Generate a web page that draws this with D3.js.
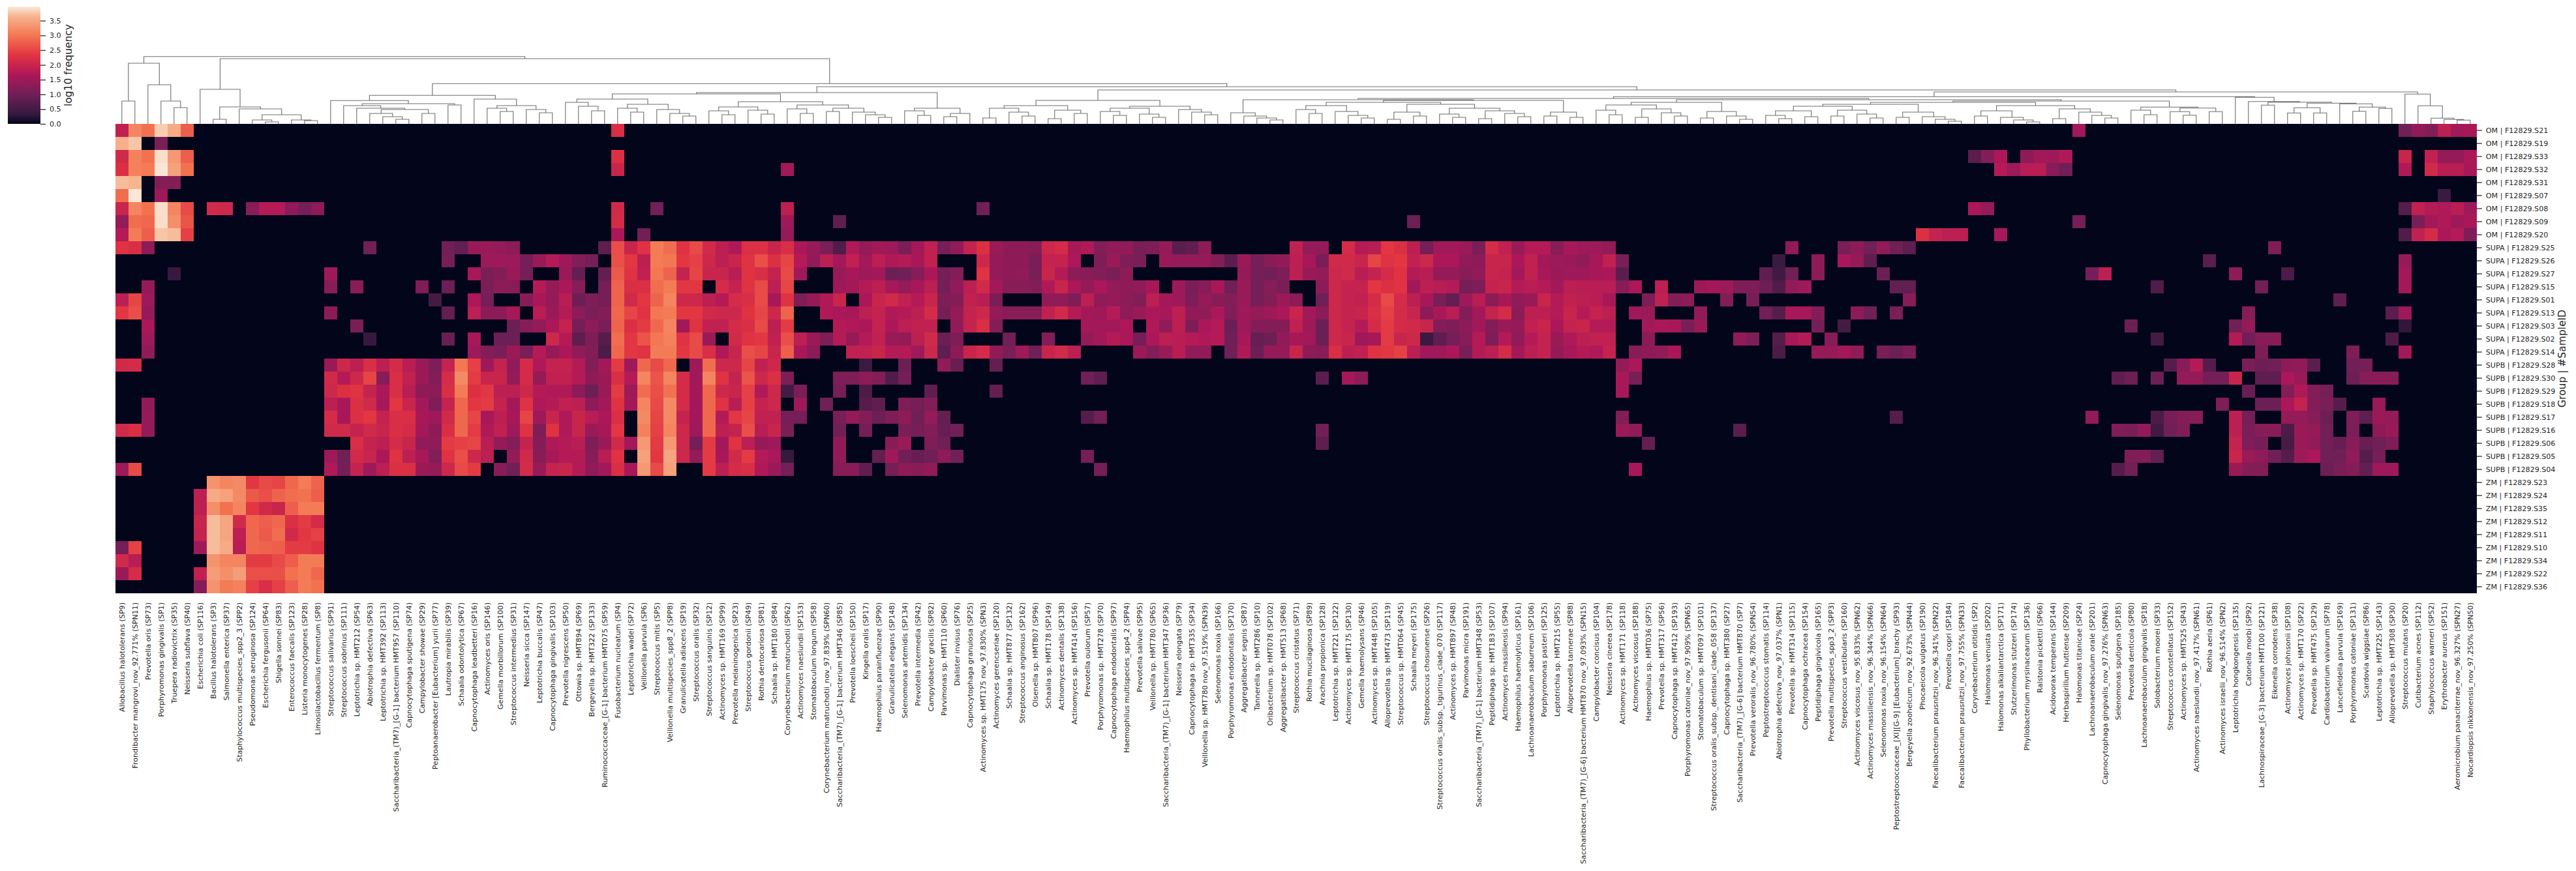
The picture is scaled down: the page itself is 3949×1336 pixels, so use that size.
<!DOCTYPE html>
<html><head><meta charset="utf-8">
<script src="https://cdn.jsdelivr.net/npm/d3@7"></script>
<style>html,body{margin:0;background:#fff}svg{display:block}text{font-family:"DejaVu Sans",sans-serif;fill:#262626}</style>
</head><body><svg id="c" width="3949" height="1336"></svg>
<script>
// ---------- categories ----------
const species = ["Allobacillus halotolerans (SP9)","Frondibacter mangrovi_nov_92.771% (SPN11)","Prevotella oris (SP73)","Porphyromonas gingivalis (SP1)","Truepera radiovictrix (SP35)","Neisseria subflava (SP40)","Escherichia coli (SP116)","Bacillus halotolerans (SP3)","Salmonella enterica (SP37)","Staphylococcus multispecies_spp2_3 (SPP2)","Pseudomonas aeruginosa (SP124)","Escherichia fergusonii (SP64)","Shigella sonnei (SP83)","Enterococcus faecalis (SP123)","Listeria monocytogenes (SP28)","Limosilactobacillus fermentum (SP8)","Streptococcus salivarius (SP91)","Streptococcus sobrinus (SP111)","Leptotrichia sp. HMT212 (SP54)","Abiotrophia defectiva (SP63)","Leptotrichia sp. HMT392 (SP113)","Saccharibacteria_(TM7)_[G-1] bacterium HMT957 (SP110)","Capnocytophaga sputigena (SP74)","Campylobacter showae (SP29)","Peptoanaerobacter [Eubacterium] yurii (SP77)","Lautropia mirabilis (SP39)","Schaalia odontolytica (SP67)","Capnocytophaga leadbetteri (SP16)","Actinomyces oris (SP146)","Gemella morbillorum (SP100)","Streptococcus intermedius (SP31)","Neisseria sicca (SP147)","Leptotrichia buccalis (SP47)","Capnocytophaga gingivalis (SP103)","Prevotella nigrescens (SP50)","Ottowia sp. HMT894 (SP69)","Bergeyella sp. HMT322 (SP133)","Ruminococcaceae_[G-1] bacterium HMT075 (SP59)","Fusobacterium nucleatum (SP4)","Leptotrichia wadei (SP72)","Veillonella parvula (SP6)","Streptococcus mitis (SP5)","Veillonella multispecies_spp8_2 (SPP8)","Granulicatella adiacens (SP19)","Streptococcus oralis (SP32)","Streptococcus sanguinis (SP12)","Actinomyces sp. HMT169 (SP99)","Prevotella melaninogenica (SP23)","Streptococcus gordonii (SP49)","Rothia dentocariosa (SP81)","Schaalia sp. HMT180 (SP84)","Corynebacterium matruchotii (SP62)","Actinomyces naeslundii (SP153)","Stomatobaculum longum (SP58)","Corynebacterium matruchotii_nov_97.839% (SPN60)","Saccharibacteria_(TM7)_[G-1] bacterium HMT346 (SP85)","Prevotella loescheii (SP150)","Kingella oralis (SP17)","Haemophilus parainfluenzae (SP90)","Granulicatella elegans (SP148)","Selenomonas artemidis (SP134)","Prevotella intermedia (SP42)","Campylobacter gracilis (SP82)","Parvimonas sp. HMT110 (SP60)","Dialister invisus (SP76)","Capnocytophaga granulosa (SP25)","Actinomyces sp. HMT175 nov_97.830% (SPN3)","Actinomyces gerencseriae (SP120)","Schaalia sp. HMT877 (SP132)","Streptococcus anginosus (SP162)","Olsenella sp. HMT807 (SP96)","Schaalia sp. HMT178 (SP149)","Actinomyces dentalis (SP138)","Actinomyces sp. HMT414 (SP156)","Prevotella oulorum (SP57)","Porphyromonas sp. HMT278 (SP70)","Capnocytophaga endodontalis (SP97)","Haemophilus multispecies_spp4_2 (SPP4)","Prevotella salivae (SP95)","Veillonella sp. HMT780 (SP65)","Saccharibacteria_(TM7)_[G-1] bacterium HMT347 (SP36)","Neisseria elongata (SP79)","Capnocytophaga sp. HMT335 (SP34)","Veillonella sp. HMT780 nov_97.519% (SPN39)","Selenomonas noxia (SP166)","Porphyromonas endodontalis (SP170)","Aggregatibacter segnis (SP87)","Tannerella sp. HMT286 (SP10)","Oribacterium sp. HMT078 (SP102)","Aggregatibacter sp. HMT513 (SP68)","Streptococcus cristatus (SP71)","Rothia mucilaginosa (SP89)","Arachnia propionica (SP128)","Leptotrichia sp. HMT221 (SP122)","Actinomyces sp. HMT175 (SP130)","Gemella haemolysans (SP46)","Actinomyces sp. HMT448 (SP105)","Alloprevotella sp. HMT473 (SP119)","Streptococcus sp. HMT064 (SP45)","Schaalia meyeri (SP175)","Streptococcus chosunense (SP26)","Streptococcus oralis_subsp._tigurinus_clade_070 (SP117)","Actinomyces sp. HMT897 (SP48)","Parvimonas micra (SP191)","Saccharibacteria_(TM7)_[G-1] bacterium HMT348 (SP53)","Peptidiphaga sp. HMT183 (SP107)","Actinomyces massiliensis (SP94)","Haemophilus haemolyticus (SP161)","Lachnoanaerobaculum saburreum (SP106)","Porphyromonas pasteri (SP125)","Leptotrichia sp. HMT215 (SP55)","Alloprevotella tannerae (SP88)","Saccharibacteria_(TM7)_[G-6] bacterium HMT870 nov_97.093% (SPN15)","Campylobacter concisus (SP104)","Neisseria cinerea (SP178)","Actinomyces sp. HMT171 (SP118)","Actinomyces viscosus (SP188)","Haemophilus sp. HMT036 (SP75)","Prevotella sp. HMT317 (SP56)","Capnocytophaga sp. HMT412 (SP193)","Porphyromonas catoniae_nov_97.909% (SPN65)","Stomatobaculum sp. HMT097 (SP101)","Streptococcus oralis_subsp._dentisani_clade_058 (SP137)","Capnocytophaga sp. HMT380 (SP27)","Saccharibacteria_(TM7)_[G-6] bacterium HMT870 (SP7)","Prevotella veroralis_nov_96.780% (SPN54)","Peptostreptococcus stomatis (SP114)","Abiotrophia defectiva_nov_97.037% (SPN1)","Prevotella sp. HMT314 (SP115)","Capnocytophaga ochracea (SP154)","Peptidiphaga gingivicola (SP165)","Prevotella multispecies_spp3_2 (SPP3)","Streptococcus vestibularis (SP160)","Actinomyces viscosus_nov_95.833% (SPN62)","Actinomyces massiliensis_nov_96.344% (SPN66)","Selenomonas noxia_nov_96.154% (SPN64)","Peptostreptococcaceae_[XI][G-9] [Eubacterium]_brachy (SP93)","Bergeyella zoohelcum_nov_92.673% (SPN44)","Phocaeicola vulgatus (SP190)","Faecalibacterium prausnitzii_nov_96.341% (SPN22)","Prevotella copri (SP184)","Faecalibacterium prausnitzii_nov_97.755% (SPN33)","Corynebacterium otitidis (SP2)","Halomonas venusta (SP202)","Halomonas alkaliantarctica (SP171)","Stutzerimonas stutzeri (SP174)","Phyllobacterium myrsinacearum (SP136)","Ralstonia pickettii (SP66)","Acidovorax temperans (SP144)","Herbaspirillum huttiense (SP209)","Halomonas titanicae (SP24)","Lachnoanaerobaculum orale (SP201)","Capnocytophaga gingivalis_nov_97.276% (SPN63)","Selenomonas sputigena (SP185)","Prevotella denticola (SP80)","Lachnoanaerobaculum gingivalis (SP18)","Solobacterium moorei (SP33)","Streptococcus constellatus (SP152)","Actinomyces sp. HMT525 (SP43)","Actinomyces naeslundii_nov_97.417% (SPN61)","Rothia aeria (SP61)","Actinomyces israelii_nov_96.514% (SPN2)","Leptotrichia hongkongensis (SP135)","Catonella morbi (SP92)","Lachnospiraceae_[G-3] bacterium HMT100 (SP121)","Eikenella corrodens (SP38)","Actinomyces johnsonii (SP108)","Actinomyces sp. HMT170 (SP22)","Prevotella sp. HMT475 (SP129)","Cardiobacterium valvarum (SP78)","Lancefieldella parvula (SP169)","Porphyromonas catoniae (SP131)","Scardovia wiggsiae (SP86)","Leptotrichia sp. HMT225 (SP143)","Alloprevotella sp. HMT308 (SP30)","Streptococcus mutans (SP20)","Cutibacterium acnes (SP112)","Staphylococcus warneri (SP52)","Erythrobacter aureus (SP151)","Aeromicrobium panaciterrae_nov_96.327% (SPN27)","Nocardiopsis nikkonensis_nov_97.250% (SPN50)"];
const samples = ["OM | F12829.S21","OM | F12829.S19","OM | F12829.S33","OM | F12829.S32","OM | F12829.S31","OM | F12829.S07","OM | F12829.S08","OM | F12829.S09","OM | F12829.S20","SUPA | F12829.S25","SUPA | F12829.S26","SUPA | F12829.S27","SUPA | F12829.S15","SUPA | F12829.S01","SUPA | F12829.S13","SUPA | F12829.S03","SUPA | F12829.S02","SUPA | F12829.S14","SUPB | F12829.S28","SUPB | F12829.S30","SUPB | F12829.S29","SUPB | F12829.S18","SUPB | F12829.S17","SUPB | F12829.S16","SUPB | F12829.S06","SUPB | F12829.S05","SUPB | F12829.S04","ZM | F12829.S23","ZM | F12829.S24","ZM | F12829.S35","ZM | F12829.S12","ZM | F12829.S11","ZM | F12829.S10","ZM | F12829.S34","ZM | F12829.S22","ZM | F12829.S36"];
const colorbarTicks = [0,0.5,1,1.5,2,2.5,3,3.5];
const rocketStops = [0,0.083,0.25,0.417,0.583,0.75,0.917,1];
const rocketColors = ["#03051a","#35193e","#701f57","#ad1759","#e13342","#f37651","#f6b48f","#faebdd"];
const vmax = 3.98;

// ---------- log10 frequency per sample: runs of [first species index, values...]; everything else is 0 ----------
const S21=[[0,1.9,3.15,2.95,3.8,3.55,2.75],[38,2.2],[150,1.55],[175,1.0,1.35,1.2,1.85,1.55,1.6]];
const S19=[[0,3.6,3.75,0,1.1]];
const S33=[[0,2.1,3.1,2.95,3.9,3.35,2.75],[38,2.25],[142,.75,1.2,1.65,0,1.3,1.55,1.5,1.7],[175,2.0,0,1.9,1.4,1.4,1.65]];
const S32=[[0,2.25,3.1,3.05,3.95,3.45,2.95],[38,2.0],[51,1.55],[144,1.75,1.5,1.8,1.8,1.25,1.0],[175,1.7,0,2.1,1.8,1.8,1.6]];
const S31=[[0,3.7,3.65,0,1.2,1.2]];
const S07=[[0,2.9,3.95,0,1.5],[178,.4]];
const S08=[[0,2.0,3.15,2.95,3.9,3.15,2.55,0,2.1,2.05,0,1.25,1.75,1.75,1.3,1.05,1.3],[38,2.1],[41,1.0],[51,1.85],[66,1.0],[142,1.65,1.4],[175,.7,1.9,1.75,1.7,1.8,1.5]];
const S09=[[0,1.4,2.9,2.85,3.9,3.25,2.65],[38,2.15],[51,1.5],[55,.8],[99,.95],[150,1.05],[176,1.1,1.55,1.7,1.5,1.6]];
const S20=[[0,1.75,3.05,2.75,3.75,3.7,2.45],[38,1.65],[40,1.0],[51,1.4],[138,2.25,1.95,1.85,1.85],[144,1.6],[175,.65,1.9,2.15,1.65,1.75,1.15]];
const S25=[[0,2.3,2.2,1.3],[19,1.0],[25,1.0,.85,1.45,1.45,1.4,1.3],[37,.8,2.6,2.0,2.3,3.05,2.9,2.3,2.55,2.1,1.85,1.7,2.25,2.25,2.0,2.2,1.65,1.4,1.1,.65,1.7,1.4,1.55,1.5,1.1,1.55,1.9,1.05,1.35,1.95,2.25,1.45,1.3,1.3,1.25,2.05,2.15,1.6,1.7,1.2,1.35,1.35,1.1,1.15,1.4,.75,.8,1.3],[90,1.9,1.4,1.4,0,2.15,1.75,1.8,2.35,2.25,1.85,1.05,1.55,1.55,1.45,1.1,2.15,1.9,1.45,1.75,1.75,1.25,1.6,1.5,1.5,1.4],[128,1.35],[132,1.1,1.3,1.0,1.35,1.0,.8],[165,1.15]];
const S26=[[25,1.05],[28,1.5,1.5,1.5,1.05,1.45,1.75,1.5,1.2,1.05,0,2.6,2.35,1.85,3.05,3.0,2.35,2.45,2.05,1.85,2.0,2.3,2.6,2.25,2.5,1.75,1.35,1.85,1.55,1.9,1.55,1.85,1.7,1.75,1.6,1.9],[66,2.05,1.4,1.3,1.3,1.1,1.95,1.95,1.65,0,1.15,1.45,1.15,1.1,0,1.45,1.4,1.4,1.4,1.2,.75,1.45,1.05,1.25,1.35,1.85,1.6,1.1,2.1,2.1,2.0,2.5,2.3,2.35,1.9,2.05,1.65,1.65,1.35,1.3,2.0,2.0,1.65,1.9,1.55,1.5,1.45,1.35,1.6,1.9,1.1],[127,.4],[130,1.3],[132,1.6,1.4,.8],[160,.75],[175,1.4]];
const S27=[[4,.35],[16,1.5],[27,1.6,1.1,1.2,1.45,1.05,0,0,1.45,.85,0,.85,2.7,2.3,1.9,3.0,2.8,1.95,2.5,2.0,2.0,1.8,2.3,2.2,1.95,2.55,1.55],[55,1.45,1.6,1.5,1.55,.95,1.0,1.25,1.65,1.05,1.2,0,2.3,1.4,1.3,1.35,1.1,2.0,1.75,1.3,1.25,1.2,1.1,1.3],[86,1.4,1.05,1.0,1.15,1.85,1.45,1.4,2.05,2.1,1.8,1.95,2.15,2.3,1.75,1.8,1.4,1.4,1.25,1.35,2.0,1.95,1.55,1.9,1.6,1.45,1.5,1.5,1.6,1.65,.75],[126,.8,.45,1.0,0,1.3],[135,.95],[151,1.05,1.85],[162,1.3],[166,.6],[175,1.55]];
const S15=[[2,1.4],[16,1.25,0,1.25],[23,1.15,0,.95],[28,1.1,1.3,1.25,0,1.75,1.4,1.65,1.25,0,1.05,2.8,2.2,2.25,2.9,3.05,2.35,2.35,0,2.15,1.95,2.3,2.55,1.85,2.5],[55,1.5,1.55,1.75,1.85,1.6,1.4,1.6,1.85,1.05,1.35,1.85,2.1,1.55,1.25,1.25,1.2,1.7,2.0,1.65,1.4,1.65,1.4,1.3,1.35,1.6,0,1.5,1.1,1.25,1.6,1.0,1.45,1.05,1.25,1.1],[92,1.3,2.05,1.95,1.95,2.35,2.25,2.3,1.55,1.85,1.8,1.75,1.05,1.15,1.95,2.0,1.75,1.8,1.75,1.55,1.85,1.8,1.8,1.8,1.25,1.65,0,1.85],[121,1.45,1.55,1.5,1.15,1.15,.95,.65,1.35,1.5],[136,.85,.85],[156,.65],[164,1.0],[175,1.55]];
const S01=[[0,1.85,2.5,1.5],[24,.5],[27,1.65,1.05,0,0,1.25,1.6,1.4,1.8,.95,1.15,1.05,2.8,2.1,2.35,2.8,3.15,2.05,2.05,1.85,1.75,2.15,2.2,2.55,1.6,2.3,1.15,1.4,1.7,2.0,0,1.65,2.0,2.1,1.9,1.75,2.0,1.15,1.2,1.9,1.8,1.1],[71,1.35,1.35,1.15,1.85,1.35,1.4,1.3,1.2,1.85,1.55,1.5,1.15,1.4,1.25,1.2,1.45,1.05,1.2,1.45,1.3,0,1.0,2.05,1.95,1.9,2.15,2.55,2.15,1.85,1.6,1.1,.85,1.5,1.8,1.3,1.6,1.35,1.45,2.0,1.75,1.9,1.85,1.8,1.6],[117,1.15,1.9,1.2,1.3],[123,1.2,0,1.05],[137,1.25],[170,.8]];
const S13=[[0,2.35,2.6,1.4],[16,1.3],[25,.85],[27,1.85,1.3,1.3,1.6,0,1.8,1.45,1.75,1.3,1.1,1.2,2.85,2.5,2.3,3.0,3.05,2.35,2.35,2.1,2.05,2.05,2.3,2.5,2.05,2.8],[54,1.7,1.65,1.6,1.85,1.95,1.7,1.75,1.85,2.15,1.05,1.4,1.95,2.05,1.4,1.25,1.25,1.25,1.9,2.1,1.75,1.55,1.5,1.75,1.3,1.45,1.65,1.6,1.85,1.35,1.35,1.65,1.2,1.5,1.4,1.5,1.65,2.0,1.55,1.3,2.05,1.95,2.0,2.2,2.45,2.15,2.0,1.3,1.6,1.8,1.2,1.55,1.95,2.15,1.3,1.85,1.85,1.75,2.0,1.75,1.95,1.85,0,1.5,1.45],[121,1.35],[126,1.0,.7,1.6,1.6,1.2],[133,1.3,1.0,0,1.1],[163,1.25],[174,.75,1.5]];
const S03=[[2,1.65],[18,1.1],[30,.95,1.25,1.4,1.65,1.95,1.05,1.3,1.1,2.8,2.25,2.4,2.85,3.15,1.55,2.3,1.9,1.9,2.15,2.2,2.55,1.85,2.4],[55,1.75,1.7,1.65,1.95,1.65,1.85,1.9,1.9,0,1.35,1.95,2.2,1.2],[74,1.55,1.55,1.55,1.65,0,1.7,1.35,1.85,1.15,1.65,1.75,.95,1.5,1.2,1.2,1.2,1.9,1.5,.95,2.05,1.95,1.75,2.15,2.4,2.15,2.1,2.0,1.2,1.15,1.3,1.55,1.2,1.45,1.4,1.9,2.0,1.65,1.95,2.0,1.75,1.75],[117,1.55,1.65,1.6,1.1,1.45],[130,1.05],[132,.5],[154,.95],[162,1.0,1.4],[175,.3]];
const S02=[[2,1.5],[19,.35],[25,.9],[27,1.6,0,.95,.95,0,0,2.05,1.75,.8,1.15,.7,2.9,2.35,2.65,3.0,3.1,2.3,2.55,1.45,0,2.1,2.3,2.35,1.9,2.6,1.85,1.45,1.15,1.75,1.4,1.75,1.9,1.45,1.4,1.85,2.1,.95,1.15],[68,1.0],[71,1.2],[74,1.4,1.55,1.75,1.65,1.05,1.65,1.85,1.8,1.75,1.7,1.75,1.0,1.6,.9,.95,1.35,1.6,1.55,.95,2.05,2.0,1.5,1.6,2.4,2.0,2.05,.4,.8,1.05,1.25,1.75,1.15,1.75,1.35,1.75,1.95,1.45,1.7,1.85,1.9,1.9],[117,1.3],[124,1.35,1.15],[127,.7,1.6,1.75,0,1.25],[156,.5],[162,1.75,1.0,1.25,1.25],[174,.6]];
const S14=[[2,1.35],[27,1.5,1.2,1.1,1.45,1.1,1.75,1.4,1.65,1.35,1.2,.6,2.85,2.35,2.3,3.05,3.05,2.35,2.55,2.2,1.7,2.0,2.6,2.5,2.0,2.75,1.6,1.3],[56,1.9,1.9,2.0,1.75,1.75,1.5,2.05,.8,1.3,2.0,2.15,1.35,1.1,1.5,1.0,2.0,2.1,1.85],[78,1.45,1.2,1.45,1.8,1.35,1.35,0,1.0,1.7,.95,1.4,1.4,2.0,1.3,1.25,2.2,1.85,1.9,2.3,2.35,2.45,1.85,1.5,1.5,1.65,1.1,1.75,1.85,2.15,1.55,1.85,1.95,1.4,1.6,1.75,1.7,1.95,0,1.25,1.3,1.35,1.6],[127,.6],[130,1.4,1.4,1.55,1.35,0,1.1,.95,1.1],[164,1.15],[171,1.15],[175,1.55]];
const S28=[[0,2.1,2.15],[16,1.45,2.05,1.85,2.2,1.85,2.15,1.8,1.45,1.15,1.95,3.0,2.45,1.5,1.95,1.35,2.15,1.7,1.95,1.95,1.75,1.2,1.55,2.4,1.5,2.85,2.55,2.85,0,1.5,2.9,2.05,2.05,2.5,1.9,2.05],[57,.4],[60,.95],[63,1.35,.9],[67,.85],[115,1.4,1.65],[157,.7,1.25,1.75,.7,0,0,1.1,.95,1.0,1.3,1.35,.75],[171,1.0,1.05]];
const S30=[[16,2.1,1.75,2.05,2.5,1.25,2.2,1.9,1.45,1.2,2.15,3.2,2.4,2.0,2.0,1.4,2.15,1.4,1.9,1.9,1.75,1.3,1.45,2.2,1.75,3.15,2.65,3.15,2.15,1.55,3.15,2.3,1.95,2.65,2.05,2.25,1.15],[55,1.15,1.15,1.3,1.2,.65,1.05],[74,1.0,.8],[92,.75,0,1.55,1.3],[115,1.6,1.1],[153,.8,.95,0,.95,0,1.4,1.4,1.05,1.05,2.0,0,.8,.8,1.65,1.45],[171,.95,1.25,1.25,1.25]];
const S29=[[16,2.05,2.25,2.3,1.95,1.65,2.2,1.8,1.3,1.3,2.2,3.05,2.25,2.35,1.85,1.85,2.05,1.75,1.7,1.7,1.3,.95,1.45,2.4,1.5,2.9,2.6,2.95,2.15,1.55,2.85,2.05,2.0,2.45,1.7,2.05,.5,1.1],[55,1.05],[57,.6],[62,.8],[67,.85],[115,1.6],[163,.9,0,0,1.2,1.7,1.2,1.05]];
const S18=[[2,1.35],[16,1.85,1.6,2.25,2.1,1.6,2.35,2.0,1.55,1.15,1.95,2.85,2.35,2.4,1.95,1.55,2.3,1.7,1.75,1.9,1.85,1.3,1.55,2.3,1.55,3.15,2.55,3.2,2.15,1.55,2.85,2.3,1.8,2.45,1.95,2.05,0,1.5,0,1.0],[57,.7,.8,0,1.15,1.05,1.2],[161,1.15],[164,.95,.95,1.65,1.95,1.2,1.1,.7],[173,1.45]];
const S17=[[2,1.4],[16,2.15,1.6,2.25,2.35,1.95,2.2,2.2,1.6,1.5,2.1,2.85,2.5,1.6,1.85,1.6,2.5,1.5,2.0,1.7,2.0,1.8,1.65,2.2,0,3.2,2.5,3.2,1.95,1.55,2.85,1.75,2.35,2.5,1.9,1.9,1.05,1.05],[55,1.1,1.4,1.2,.95,1.15,1.3,1.0,1.4,.85],[74,.7,1.0],[115,1.2],[136,.7],[151,1.35],[156,.6,1.05,1.2,1.25],[162,1.85,1.05],[166,1.4,1.4,1.25,.95],[171,1.15,.8,1.45,1.4]];
const S16=[[0,2.1,2.2,1.4],[16,2.1,2.1,1.95,2.1,2.0,2.2,2.15,1.55,1.3,2.2,2.85,2.4,1.7,1.9,1.5,2.3,1.15,2.3,1.7,2.0,1.45,1.6,2.35,0,3.1,2.45,3.15,2.05,1.5,2.85,1.85,1.95,2.6,1.8,2.0,1.1],[55,1.0],[57,1.05],[60,1.1,1.05,1.2,.9,1.0],[92,1.0],[115,1.5,1.35],[124,.75],[153,1.15,1.1,1.35,.45,1.0,1.15],[162,1.85,1.1,1.25,1.25,.6,1.45,1.4,1.0],[171,1.1,0,1.3,1.45]];
const S06=[[18,2.2,1.95,1.85,2.15,2.0,1.35,1.35,2.4,2.45,2.5,1.8,1.4,1.2,1.95,1.2,1.7,1.75,1.8,1.15,1.45,2.1,1.55,3.35,2.4,3.35,2.05,1.05,2.4,1.55,2.3,1.85,1.4,1.5],[55,1.35],[59,1.25,1.45,0,1.15,1.0],[92,.8],[117,.85],[162,1.95,1.15,1.05,0,.55,1.45,1.35,1.0,.9,1.25,.9,1.0,1.15]];
const S05=[[16,1.5,1.0,2.1,2.0,1.65,2.3,1.85,1.6,1.2,2.3,2.6,2.05,1.85,0,1.4,2.1,1.25,1.6,1.75,1.75,1.25,1.8,2.3,0,3.45,2.35,3.5,2.05,1.4,2.4,1.6,2.1,2.4,1.75,1.65,.35],[55,1.35],[58,.85,1.5,1.0,.9,1.0,1.3,1.0],[74,1.05],[154,1.15,1.2,.85],[162,2.0,1.45,1.3,1.0,.7,1.5,1.65,1.0,1.0,1.35,.7,1.05]];
const S04=[[0,1.5,2.55],[16,1.7,1.05,1.95,1.5,1.85,2.25,2.25,1.45,1.4,2.05,2.55,2.4,0,1.25,1.0,2.15,1.45,1.95,2.0,1.75,1.35,1.55,2.2,1.6,3.35,2.55,3.45,0,0,2.4,1.85,2.15,2.2,1.7,1.45,1.05],[55,1.25,1.25,.8,0,1.05,1.3,1.25,1.35],[75,1.05],[116,1.6],[153,.7,1.0],[162,1.45,1.2,1.2],[169,.95,1.1,1.2,.85,1.5,1.5]];
const S23=[[7,3.3,3.15,3.2,2.35,2.55,2.5,2.85,3.05,2.8]];
const S24=[[6,1.85,3.55,3.45,3.2,2.7,2.6,2.8,2.9,2.95,2.75]];
const S35=[[6,1.85,3.25,2.95,3.15,2.35,2.1,2.0,2.75,3.05,3.05]];
const S12=[[6,2.0,3.7,3.5,2.1,2.85,2.75,2.85,2.25,2.4,2.15]];
const S11=[[6,1.95,3.7,3.5,1.85,2.85,2.7,2.9,2.1,2.35,2.45]];
const S10=[[0,1.05,2.45],[6,1.5,3.7,3.55,1.8,2.85,2.8,2.75,2.4,2.4,2.3]];
const S34=[[0,2.1,1.8],[7,3.3,3.15,3.15,2.4,2.4,2.55,2.75,3.05,3.05]];
const S22=[[0,1.45,2.15],[6,1.9,3.4,3.25,3.4,2.6,2.6,2.6,2.95,3.05,2.85]];
const S36=[[6,1.25,3.3,3.05,3.1,2.45,2.2,2.45,2.75,3.05,2.95]];
const sampleRuns=[S21,S19,S33,S32,S31,S07,S08,S09,S20,S25,S26,S27,S15,S01,S13,S03,S02,S14,S28,S30,S29,S18,S17,S16,S06,S05,S04,S23,S24,S35,S12,S11,S10,S34,S22,S36];

// ---------- species clustering: [left, right, distance]; a number is a species index ----------
const cladeA=[[0,1,35],[2,[3,[4,5,25],35],60],93];
const cladeB=[6,[[7,8,7],[9,[[10,[11,12,3],6],[13,[14,15,5],6],14],23],26],53];
const cladeC=[16,[[17,[18,[[19,[20,[21,22,7],11],16],[23,24,16],22],24],28],[25,26,29],31],35.7];
const cladeD=[27,[[28,[29,30,19],24],[31,[32,33,17],22],28],38];
const cladeE=[[[[34,[35,[36,37,20],27],33],[[38,[39,40,18],24],[41,[42,[43,44,12],16],22],30],38],[[[45,[46,47,14],20],[48,[49,50,15],21],26],[[51,[52,53,16],23],[[54,55,19],[56,[57,[58,59,10],14],18],24],29],34],46],[[60,[61,62,13],20],[[63,64,11],65,16],24],48];
const cladeN=[[[[66,67,9],[68,[69,70,12],18],24],[[71,72,8],[73,74,16],21],28],[[[75,[76,77,13],19],[78,[79,80,10],15],24],[81,[82,[83,84,14],18],22],27],36];
const cladeF=[[85,[86,[87,[88,89,6],9],12],17],[[[[90,[91,92,16],22],[93,[94,[95,96,9],13],19],28],[[[97,98,7],[99,100,12],18],[[101,[102,103,10],15],[[104,105,8],[106,[107,108,11],16],20],24],30],33],[[109,110,12],[111,112,10],18],36],37];
const cladeG=[[[113,[114,115,14],21],[[116,117,10],[118,[119,120,12],17],23],29],[[121,122,9],[123,[124,125,7],12],19],33];
const cladeH=[[[[[126,[127,128,8],13],[129,130,11],20],[[131,132,12],[133,[134,135,9],15],21],27],[[136,137,10],[138,[139,[140,141,4],7],11],18],30],[[[142,143,12],[144,[145,[146,147,3],6],10],20],[[148,149,8],[150,[151,[152,153,9],13],18],23],28],33];
const cladeK=[[154,[155,156,14],21],[[157,[158,159,13.3],18.7],[160,161,18.7],24.3],25.7];
const cladeL=[162,[163,[[164,165,28.7],[[[166,167,16.7],[168,169,16.7],24.7],[170,[[171,172,19.3],[173,174,23.7],25.7],30.7],31.7],33.3],34.3],40.7];
const cladeM=[175,[176,[177,[178,[179,180,5.7],6.7],8.7],27.7],45.7];
const cladeT=[[[cladeF,[cladeG,[cladeH,cladeK,35],37],39],cladeL,41.7],cladeM,49];
const speciesTree=[cladeA,[cladeB,[[cladeC,cladeD,43.7],[cladeE,[cladeN,cladeT,52],57],61.7],100],103.3];

// ---------- drawing ----------
const svg=d3.select("#c");
const x=d3.scaleBand().domain(species).range([176.8,3796.8]);
const y=d3.scaleBand().domain(samples).range([190,910]);
const color=d3.scaleLinear().domain(rocketStops.map(t=>t*vmax)).range(rocketColors).interpolate(d3.interpolateRgb);

const cells=[];
sampleRuns.forEach((runs,r)=>{
  const row=new Array(species.length).fill(0);
  runs.forEach(([start,...vals])=>vals.forEach((v,k)=>row[start+k]=v));
  row.forEach((v,c)=>cells.push({s:samples[r],t:species[c],v}));
});
svg.append("g").attr("shape-rendering","crispEdges").selectAll("rect").data(cells).join("rect")
  .attr("x",d=>x(d.t)).attr("y",d=>y(d.s)).attr("width",x.bandwidth()).attr("height",y.bandwidth())
  .attr("fill",d=>color(d.v));

const xAxis=svg.append("g").attr("transform","translate(0,910)").call(d3.axisBottom(x).tickSize(0));
xAxis.select(".domain").remove();
xAxis.selectAll("text").attr("font-size",11.1).attr("transform","rotate(-90)")
  .attr("x",-14).attr("y",0).attr("dy","0.35em").attr("text-anchor","end");

const yAxis=svg.append("g").attr("transform","translate(3796.8,0)").call(d3.axisRight(y).tickSize(8).tickPadding(6));
yAxis.select(".domain").remove();
yAxis.selectAll("line").attr("stroke","#444").attr("stroke-width",1.5);
yAxis.selectAll("text").attr("font-size",11.1);

svg.append("text").attr("transform","translate(3933,550) rotate(-90)").attr("text-anchor","middle")
  .attr("font-size",15.5).text("Group | #SampleID");

// dendrogram
const h=d3.scaleLinear().domain([0,103.3]).range([190,86.7]);
const dendro=d3.path();
function layout(n){
  if(typeof n==="number") return {x:x(species[n])+x.bandwidth()/2,y:h(0)};
  const a=layout(n[0]),b=layout(n[1]),yy=h(n[2]);
  dendro.moveTo(a.x,a.y);dendro.lineTo(a.x,yy);dendro.lineTo(b.x,yy);dendro.lineTo(b.x,b.y);
  return {x:(a.x+b.x)/2,y:yy};
}
layout(speciesTree);
svg.append("path").attr("d",dendro.toString()).attr("fill","none").attr("stroke","#6e6e6e").attr("stroke-width",1.1);

// colorbar
const cb=d3.scaleLinear().domain([0,vmax]).range([190,10]);
const grad=svg.append("defs").append("linearGradient").attr("id","rocket").attr("x1",0).attr("x2",0).attr("y1",1).attr("y2",0);
grad.selectAll("stop").data(rocketStops).join("stop").attr("offset",d=>d).attr("stop-color",(d,i)=>rocketColors[i]);
svg.append("rect").attr("x",12).attr("y",10).attr("width",50).attr("height",180).attr("fill","url(#rocket)");
const cAxis=svg.append("g").attr("transform","translate(62,0)")
  .call(d3.axisRight(cb).tickValues(colorbarTicks).tickFormat(d3.format(".1f")).tickSize(8).tickPadding(6));
cAxis.select(".domain").remove();
cAxis.selectAll("line").attr("stroke","#444").attr("stroke-width",1.5);
cAxis.selectAll("text").attr("font-size",11.1);
svg.append("text").attr("transform","translate(110,100) rotate(-90)").attr("text-anchor","middle")
  .attr("font-size",15.5).text("log10 frequency");
</script></body></html>
